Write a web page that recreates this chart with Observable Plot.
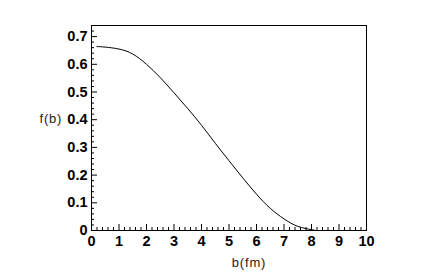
<!DOCTYPE html>
<html>
<head>
<meta charset="utf-8">
<script src="https://cdn.jsdelivr.net/npm/d3@7"></script>
<script src="https://cdn.jsdelivr.net/npm/@observablehq/plot@0.6"></script>
<style>
  html, body { margin: 0; padding: 0; background: #fff; }
  #chart { width: 441px; height: 274px; }
  .title-text text { letter-spacing: 0.8px; }
</style>
</head>
<body>
<div id="chart"></div>
<script>
// Data
const bValues = [0.2, 0.5, 1.0, 1.5, 2.0, 2.5, 3.0, 3.5, 4.0, 4.5, 5.0, 5.5, 6.0, 6.5, 7.0, 7.5, 8.0, 8.15];
const fValues = [0.664, 0.662, 0.655, 0.637, 0.600, 0.552, 0.497, 0.440, 0.380, 0.315, 0.252, 0.190, 0.131, 0.080, 0.042, 0.015, 0.003, 0.0];

const xMajorTicks = [0, 1, 2, 3, 4, 5, 6, 7, 8, 9, 10];
const xMinorTicks = d3.range(0, 50).map(i => i / 5).filter(v => !xMajorTicks.includes(v));
const yMajorTicks = [0, 0.1, 0.2, 0.3, 0.4, 0.5, 0.6, 0.7];
const yMinorTicks = d3.range(0, 37).map(i => +(i * 0.02).toFixed(2)).filter(v => !yMajorTicks.some(t => Math.abs(t - v) < 1e-9));

const xTitle = "b(fm)";
const yTitle = "f(b)";

const data = bValues.map((b, i) => ({b, f: fValues[i]}));

const W = 441, H = 274;
const mL = 91, mR = 75, mT = 25, mB = 44;
const innerW = W - mL - mR, innerH = H - mT - mB;

const chart = Plot.plot({
  width: W,
  height: H,
  marginLeft: mL,
  marginRight: mR,
  marginTop: mT,
  marginBottom: mB,
  style: {fontFamily: "'Liberation Sans', Arial, Helvetica, sans-serif", background: "#fff", color: "#000"},
  x: {domain: [0, 10], axis: null},
  y: {domain: [0, 0.74], axis: null},
  marks: [
    Plot.line(data, {x: "b", y: "f", stroke: "#000", strokeWidth: 1, curve: "natural"}),
    // inward ticks on x axis
    Plot.tickX(xMajorTicks, {x: d => d, stroke: "#000", insetTop: innerH - 6}),
    Plot.tickX(xMinorTicks, {x: d => d, stroke: "#000", insetTop: innerH - 3}),
    // inward ticks on y axis
    Plot.tickY(yMajorTicks, {y: d => d, stroke: "#000", insetRight: innerW - 6}),
    Plot.tickY(yMinorTicks, {y: d => d, stroke: "#000", insetRight: innerW - 3}),
    Plot.frame({stroke: "#000", strokeWidth: 1}),
    // tick labels
    Plot.axisX({ticks: xMajorTicks, tickSize: 0, tickPadding: 5, fontSize: 14.5, fontWeight: "bold", label: null, tickFormat: d => String(d)}),
    Plot.axisY({ticks: yMajorTicks, tickSize: 0, tickPadding: 4, fontSize: 14.5, fontWeight: "bold", label: null, tickFormat: d => d === 0 ? "0" : d.toFixed(1)}),
    // axis titles
    Plot.text([yTitle], {text: d => d, frameAnchor: "left", dx: -52, dy: -9, fontSize: 13, fill: "#222", className: "title-text"}),
    Plot.text([xTitle], {text: d => d, frameAnchor: "bottom", dx: 20, dy: 36, fontSize: 13, fill: "#222", className: "title-text"})
  ]
});
document.getElementById("chart").appendChild(chart);
</script>
</body>
</html>
